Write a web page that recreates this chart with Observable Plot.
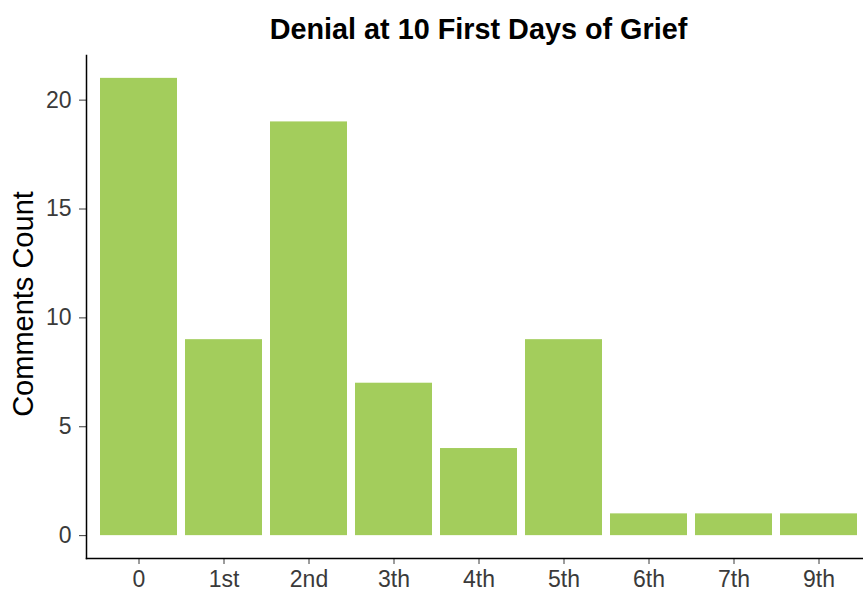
<!DOCTYPE html>
<html>
<head>
<meta charset="utf-8">
<script src="https://cdn.jsdelivr.net/npm/d3@7"></script>
<script src="https://cdn.jsdelivr.net/npm/@observablehq/plot@0.6"></script>
<style>
  body { margin: 0; background: #fff; }
  #wrap { position: relative; width: 863px; height: 592px; overflow: hidden; }
  #title { position: absolute; left: 86px; width: 785px; top: 13px; text-align: center; line-height: 32px;
           font-family: "Liberation Sans", Arial, sans-serif; font-weight: bold; font-size: 28.8px; color: #000; }
</style>
</head>
<body>
<div id="wrap">
  <div id="title">Denial at 10 First Days of Grief</div>
  <div id="chart"></div>
</div>
<script>
const categories = ["0", "1st", "2nd", "3th", "4th", "5th", "6th", "7th", "9th"];
const counts = [21, 9, 19, 7, 4, 9, 1, 1, 1];
const yTicks = [0, 5, 10, 15, 20];
const yLabel = "Comments Count";

const data = categories.map((c, i) => ({day: c, count: counts[i]}));

const chart = Plot.plot({
  width: 863,
  height: 592,
  marginLeft: 86,
  marginRight: 0,
  marginTop: 55,
  marginBottom: 34,
  style: {fontFamily: "'Liberation Sans', Arial, sans-serif", fontSize: "23px", background: "#fff"},
  x: {domain: categories, range: [86, 871], paddingInner: 0.1, paddingOuter: 0.15, label: null},
  y: {domain: [-1.05, 22.05], ticks: yTicks, label: null},
  marks: [
    Plot.barY(data, {x: "day", y1: 0, y2: "count", fill: "#a3cd5c"}),
    Plot.axisY({ticks: yTicks, tickSize: 7, tickPadding: 8, color: "#3a3a3a", fontSize: 23, label: null}),
    Plot.axisX({tickSize: 6, tickPadding: 6, color: "#3a3a3a", fontSize: 23, label: null}),
    Plot.text([yLabel], {frameAnchor: "left", textAnchor: "middle", rotate: -90, dx: -63, dy: -3, fontSize: 29, fill: "#000"}),
    Plot.frame({anchor: "left", stroke: "#000", strokeWidth: 1.5}),
    Plot.frame({anchor: "bottom", stroke: "#000", strokeWidth: 1.5})
  ]
});
document.getElementById("chart").appendChild(chart);
</script>
</body>
</html>
